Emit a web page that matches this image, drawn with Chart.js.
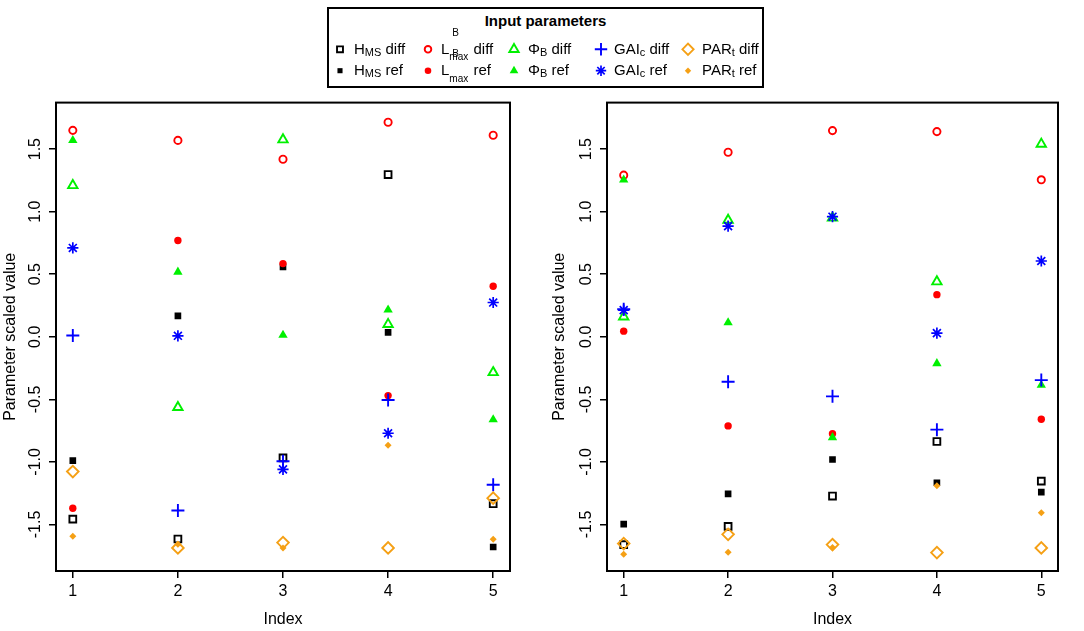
<!DOCTYPE html>
<html>
<head>
<meta charset="utf-8">
<script src="https://cdn.jsdelivr.net/npm/chart.js@4.4.0/dist/chart.umd.min.js"></script>
<style>
html,body{margin:0;padding:0;background:#fff;}
body{width:1084px;height:631px;position:relative;overflow:hidden;font-family:"Liberation Sans",Arial,Helvetica,sans-serif;color:#000;}
#legendBox{position:absolute;left:327px;top:7px;width:433px;height:77px;border:2px solid #000;}
#legendTitle{position:absolute;left:327px;width:437px;top:11.5px;text-align:center;font-weight:bold;font-size:15px;line-height:18px;}
.it{position:absolute;font-size:15px;line-height:18px;white-space:nowrap;}
.sb{font-size:11px;vertical-align:-2px;}
.ss{display:inline-block;position:relative;width:20px;height:0;}
.ss .up{position:absolute;left:3px;top:-26px;font-size:10px;line-height:10px;}
.ss .dn{position:absolute;left:0;top:-1.5px;font-size:10px;line-height:10px;}
#legendSyms{position:absolute;left:0;top:0;pointer-events:none;}
.panel{position:absolute;top:90px;}
</style>
</head>
<body>
<div id="legendBox"></div>
<div id="legendTitle">Input parameters</div>
<canvas id="legendSyms" width="1084" height="95"></canvas>
<canvas id="leftChart" class="panel" style="left:0px;width:540px;height:541px" width="540" height="541"></canvas>
<canvas id="rightChart" class="panel" style="left:540px;width:544px;height:541px" width="544" height="541"></canvas>
<script>
// ---------------- data ----------------
const indexValues = [1, 2, 3, 4, 5];
const yTickValues = [-1.5, -1.0, -0.5, 0.0, 0.5, 1.0, 1.5];
const yTickLabels = ["-1.5", "-1.0", "-0.5", "0.0", "0.5", "1.0", "1.5"];
const xTickLabels = ["1", "2", "3", "4", "5"];
const xAxisTitle = "Index";
const yAxisTitle = "Parameter scaled value";
const seriesKeys = ["HMS diff", "HMS ref", "Lmax diff", "Lmax ref", "PhiB diff", "PhiB ref", "GAIc diff", "GAIc ref", "PARt diff", "PARt ref"];

// left panel
const leftHmsDiff  = [-1.457, -1.616, -0.968,  1.297, -1.334];
const leftHmsRef   = [-0.990,  0.167,  0.558,  0.035, -1.680];
const leftLmaxDiff = [ 1.650,  1.570,  1.419,  1.715,  1.611];
const leftLmaxRef  = [-1.370,  0.770,  0.585, -0.470,  0.404];
const leftPhiDiff  = [ 1.210, -0.564,  1.576,  0.100, -0.285];
const leftPhiRef   = [ 1.570,  0.518,  0.013,  0.215, -0.662];
const leftGaiDiff  = [ 0.010, -1.388, -0.995, -0.505, -1.183];
const leftGaiRef   = [ 0.710,  0.008, -1.060, -0.771,  0.274];
const leftParDiff  = [-1.077, -1.688, -1.645, -1.688, -1.290];
const leftParRef   = [-1.595, -1.659, -1.688, -0.867, -1.619];

// right panel
const rightHmsDiff  = [-1.661, -1.515, -1.273, -0.837, -1.154];
const rightHmsRef   = [-1.497, -1.255, -0.981, -1.167, -1.241];
const rightLmaxDiff = [ 1.292,  1.475,  1.648,  1.640,  1.255];
const rightLmaxRef  = [ 0.045, -0.712, -0.774,  0.337, -0.659];
const rightPhiDiff  = [ 0.160,  0.933,  0.950,  0.441,  1.541];
const rightPhiRef   = [ 1.255,  0.114, -0.805, -0.213, -0.386];
const rightGaiDiff  = [ 0.220, -0.359, -0.476, -0.742, -0.346];
const rightGaiRef   = [ 0.213,  0.885,  0.960,  0.029,  0.606];
const rightParDiff  = [-1.653, -1.579, -1.661, -1.725, -1.688];
const rightParRef   = [-1.738, -1.722, -1.685, -1.190, -1.406];

const leftSeries  = [leftHmsDiff, leftHmsRef, leftLmaxDiff, leftLmaxRef, leftPhiDiff, leftPhiRef, leftGaiDiff, leftGaiRef, leftParDiff, leftParRef];
const rightSeries = [rightHmsDiff, rightHmsRef, rightLmaxDiff, rightLmaxRef, rightPhiDiff, rightPhiRef, rightGaiDiff, rightGaiRef, rightParDiff, rightParRef];

// ---------------- styles ----------------
const BLACK = '#000000', RED = '#FF0000', GREEN = '#00F000', BLUE = '#0000FF', ORANGE = '#F5A015';
const seriesStyles = [
  {style: 'rect',     color: BLACK,  fill: false, r: 4.8, bw: 1.9, lr: 4.2},
  {style: 'rect',     color: BLACK,  fill: true,  r: 4.7, bw: 0,   lr: 3.6},
  {style: 'circle',   color: RED,    fill: false, r: 3.6, bw: 1.9, lr: 3.3},
  {style: 'circle',   color: RED,    fill: true,  r: 3.7, bw: 0,   lr: 3.3},
  {style: 'triangle', color: GREEN,  fill: false, r: 5.4, bw: 1.9, lr: 5.4},
  {style: 'triangle', color: GREEN,  fill: true,  r: 5.4, bw: 0,   lr: 5.0},
  {style: 'cross',    color: BLUE,   fill: false, r: 6.5, bw: 1.9, lr: 6.2},
  {style: 'star',     color: BLUE,   fill: false, r: 5.6, bw: 1.7, lr: 5.2},
  {style: 'rectRot',  color: ORANGE, fill: false, r: 5.8, bw: 1.9, lr: 5.6},
  {style: 'rectRot',  color: ORANGE, fill: true,  r: 3.5, bw: 0,   lr: 3.2}
];
const FONT_FAMILY = '"Liberation Sans", Arial, Helvetica, sans-serif';

// ---------------- legend ----------------
const legendLabels = [
  'H<span class="sb">MS</span> diff',
  'H<span class="sb">MS</span> ref',
  'L<span class="ss"><span class="up">B</span><span class="dn">max</span></span> diff',
  'L<span class="ss"><span class="up">B</span><span class="dn">max</span></span> ref',
  '\u03A6<span class="sb">B</span> diff',
  '\u03A6<span class="sb">B</span> ref',
  'GAI<span class="sb">c</span> diff',
  'GAI<span class="sb">c</span> ref',
  'PAR<span class="sb">t</span> diff',
  'PAR<span class="sb">t</span> ref'
];
const legendSymX = [340, 428, 514, 601, 688];
const legendTextX = [354, 441, 528, 614, 702];
const legendRowY = [48.8, 70.2];

legendLabels.forEach((html, i) => {
  const col = Math.floor(i / 2), row = i % 2;
  const d = document.createElement('div');
  d.className = 'it';
  d.style.left = legendTextX[col] + 'px';
  d.style.top = (legendRowY[row] - 8.9) + 'px';
  d.innerHTML = html;
  document.body.appendChild(d);
});

(function drawLegendSymbols() {
  const ctx = document.getElementById('legendSyms').getContext('2d');
  seriesStyles.forEach((s, i) => {
    const col = Math.floor(i / 2), row = i % 2;
    ctx.save();
    ctx.strokeStyle = s.color;
    ctx.fillStyle = s.fill ? s.color : 'rgba(0,0,0,0)';
    ctx.lineWidth = s.bw;
    Chart.helpers.drawPoint(ctx, {pointStyle: s.style, radius: s.lr, rotation: 0, borderWidth: s.bw}, legendSymX[col], legendRowY[row] + 0.5);
    ctx.restore();
  });
})();

// ---------------- charts ----------------
const framePlugin = {
  id: 'frame',
  afterDraw(chart) {
    const {ctx, chartArea: a} = chart;
    const y = chart.scales.y;
    ctx.save();
    ctx.strokeStyle = '#000';
    ctx.lineWidth = 2;
    ctx.strokeRect(a.left, a.top, a.right - a.left, a.bottom - a.top);
    ctx.fillStyle = '#000';
    ctx.font = '16px ' + FONT_FAMILY;
    ctx.textAlign = 'center';
    ctx.textBaseline = 'middle';
    yTickValues.forEach((v, i) => {
      const py = y.getPixelForValue(v);
      ctx.save();
      ctx.translate(a.left - 21, py);
      ctx.rotate(-Math.PI / 2);
      ctx.fillText(yTickLabels[i], 0, 1);
      ctx.restore();
    });
    ctx.restore();
  }
};

function makePanel(canvasId, series, yWidth, padLeft, padRight) {
  const datasets = series.map((vals, i) => {
    const s = seriesStyles[i];
    return {
      label: seriesKeys[i],
      data: indexValues.map((x, k) => ({x: x, y: vals[k]})),
      showLine: false,
      pointStyle: s.style,
      pointRadius: s.r,
      pointHoverRadius: s.r,
      pointBorderWidth: s.bw,
      pointBorderColor: s.color,
      pointBackgroundColor: s.fill ? s.color : 'rgba(0,0,0,0)',
      borderColor: s.color,
      backgroundColor: s.fill ? s.color : 'rgba(0,0,0,0)',
      order: 100 - i
    };
  });
  return new Chart(document.getElementById(canvasId), {
    type: 'scatter',
    data: {datasets},
    options: {
      responsive: false,
      animation: false,
      devicePixelRatio: 1,
      layout: {padding: {top: 11, right: padRight, left: padLeft, bottom: 2}},
      plugins: {legend: {display: false}, tooltip: {enabled: false}},
      scales: {
        x: {
          type: 'linear', min: 0.84, max: 5.16,
          afterBuildTicks: s => { s.ticks = indexValues.map(v => ({value: v})); },
          afterFit: s => { s.height = 58; },
          grid: {display: true, drawOnChartArea: false, drawTicks: true, tickLength: 7, color: '#000', lineWidth: 1.5},
          border: {display: false},
          ticks: {color: '#000', font: {size: 16, family: FONT_FAMILY}, padding: 4, maxRotation: 0, callback: (v) => xTickLabels[indexValues.indexOf(v)] ?? ''},
          title: {display: true, text: xAxisTitle, color: '#000', font: {size: 16, family: FONT_FAMILY}, padding: 0}
        },
        y: {
          type: 'linear', min: -1.872, max: 1.872,
          afterBuildTicks: s => { s.ticks = yTickValues.map(v => ({value: v})); },
          afterFit: s => { s.width = yWidth; },
          grid: {display: true, drawOnChartArea: false, drawTicks: true, tickLength: 7, color: '#000', lineWidth: 1.5},
          border: {display: false},
          ticks: {color: 'rgba(0,0,0,0)', font: {size: 16, family: FONT_FAMILY}},
          title: {display: true, text: yAxisTitle, color: '#000', font: {size: 16, family: FONT_FAMILY}, padding: 0}
        }
      }
    },
    plugins: [framePlugin]
  });
}

makePanel('leftChart', leftSeries, 55, 1, 30);
makePanel('rightChart', rightSeries, 57, 10, 26);
</script>
</body>
</html>
